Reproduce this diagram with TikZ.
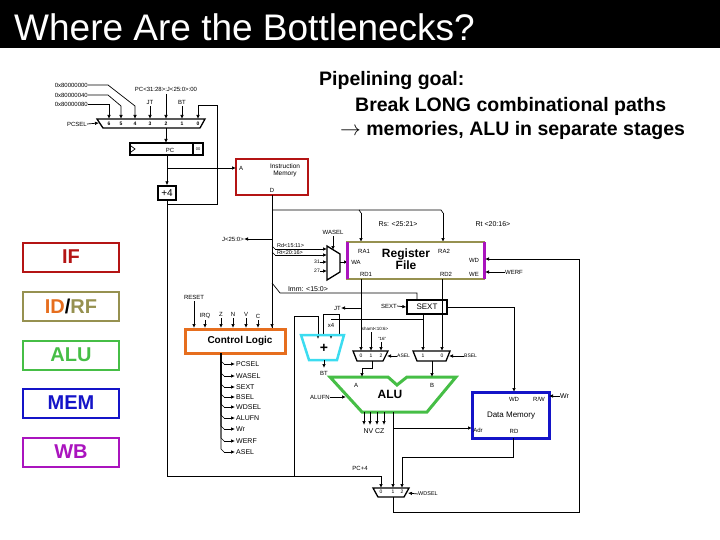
\documentclass[tikz,border=0pt]{standalone}
\usepackage{fontspec}
\setmainfont{Liberation Sans}
\usetikzlibrary{arrows.meta}
\definecolor{dred}{RGB}{180,20,20}
\definecolor{olive2}{RGB}{150,145,80}
\definecolor{purp}{RGB}{170,20,190}
\definecolor{grn}{RGB}{70,190,70}
\definecolor{blu}{RGB}{20,20,200}
\definecolor{orng}{RGB}{230,110,30}
\definecolor{cyn}{RGB}{60,220,240}
\begin{document}
\begin{tikzpicture}[x=1pt,y=-1pt,
  w/.style={line width=0.7pt},
  a/.style={w,-{Latex[length=4pt,width=3.5pt]}},
  t/.style={font=\fontsize{6}{6}\selectfont,inner sep=0pt},
  tb/.style={font=\fontsize{8}{8}\selectfont,inner sep=0pt},
  stage/.style={draw,line width=2pt,minimum width=96pt,minimum height=29pt,font=\fontsize{20}{20}\selectfont\bfseries},
  mux/.style={w,line width=1.3pt},
  goal/.style={anchor=west,font=\fontsize{19.5}{20}\selectfont\bfseries,inner sep=0}]
\useasboundingbox (0,0) rectangle (720,540);
\fill[black] (0,0) rectangle (720,48);
\node[white,anchor=west,font=\fontsize{37}{37}\selectfont,inner sep=0] (title) at (14,27) {Where Are the Bottlenecks?};
\node[goal] (g1) at (319,81) {Pipelining goal:};
\node[goal] (g2) at (355,106) {Break LONG combinational paths};
\node[goal] (g3) at (340,131) {$\rightarrow$ memories, ALU in separate stages};
% stages
\node[stage,draw=dred,text=dred] (sIF) at (71,257) {IF};
\node[stage,draw=olive2] (sID) at (71,306) {\textcolor{orng}{ID}/\textcolor{olive2}{RF}};
\node[stage,draw=grn,text=grn] (sALU) at (71,355) {ALU};
\node[stage,draw=blu,text=blu] (sMEM) at (71,403) {MEM};
\node[stage,draw=purp,text=purp] (sWB) at (71,452) {WB};
% PCSEL mux
\draw[mux] (97,119) -- (205,119) -- (200,128) -- (103,128) -- cycle;
\foreach \x/\n in {109/6,121/5,135/4,150/3,166/2,182/1,198/0}{\node[t,font=\fontsize{5}{5}\selectfont\bfseries] at (\x,124) {\n};}
\node[t,anchor=east] (c0) at (88,85) {0x80000000};
\node[t,anchor=east] (c1) at (88,95) {0x80000040};
\node[t,anchor=east] (c2) at (88,104) {0x80000080};
\draw[a] (c2.east) -- (109,104) -- (109,119);
\draw[a] (c1.east) -- (108,95) -- (121,106) -- (121,119);
\draw[a] (c0.east) -- (108,85) -- (135,106) -- (135,119);
\node[t] (jtl) at (150,102) {JT};
\draw[a] (150,106) -- (150,119);
\node[t] (pcj) at (166,89) {PC<31:28>:J<25:0>:00};
\draw[a] (166,94) -- (166,119);
\node[t] (btl) at (182,102) {BT};
\draw[a] (182,106) -- (182,119);
\node[t,anchor=east] (pcsel) at (87,124) {PCSEL};
\draw[a] (pcsel.east) -- (99,123);
% PC register
\draw[line width=1.3pt] (130,143) rectangle (203,155);
\draw[line width=1.3pt] (193,143) rectangle (203,155);
\node[t,font=\fontsize{4}{4}\selectfont] at (198,149) {00};
\node[t] (pc) at (170,150) {PC};
\draw[w] (131,146) -- (135,149) -- (131,152);
\draw[a] (166,128) -- (166,143);
% +4
\node[draw,line width=1.3pt,minimum width=18pt,minimum height=14pt,inner sep=0pt,font=\fontsize{10}{10}\selectfont] (p4) at (167,193) {+4};
\draw[a] (167,155) -- (p4.north);
% Instruction memory
\node[draw=dred,line width=2.5pt,minimum width=72pt,minimum height=36pt] (im) at (272,177) {};
\node[t,font=\fontsize{6.5}{7}\selectfont,align=center] at (285,170) {Instruction\\Memory};
\node[t] at (241,168) {A};
\node[t] at (272,190) {D};
\draw[a] (167,168) -- (236,168);
% loop to input 0
\draw[a] (167,204) -- (217,204) -- (217,105) -- (198,105) -- (198,119);
% PC+4 down
\draw[w] (p4.south) -- (167,476) -- (381,476);
\draw[a] (381,476) -- (381,488);
\node[t] at (360,468) {PC+4};
% instruction bus
\draw[w] (272,195) -- (272,328);
\draw[w] (272,210) -- (359,210) -- (361,213);
\draw[a] (361,213) -- (361,242);
\draw[w] (359,210) -- (441,210) -- (443,213);
\draw[a] (443,213) -- (443,242);
\node[t,font=\fontsize{7}{7}\selectfont] at (398,224) {Rs: <25:21>};
\node[t,font=\fontsize{7}{7}\selectfont] at (493,224) {Rt <20:16>};
\node[t,anchor=east] (jl) at (244,239) {J<25:0>};
\draw[a] (272,239) -- (jl.east);
\draw[w] (272,246) -- (275,249);
\draw[a] (275,249) -- (327,249);
\node[t,anchor=south west,font=\fontsize{5.5}{5.5}\selectfont] at (277,248) {Rd<15:11>};
\draw[w] (272,252) -- (275,255);
\draw[a] (275,255) -- (327,255);
\node[t,anchor=south west,font=\fontsize{5.5}{5.5}\selectfont] at (277,254.5) {Rt<20:16>};
\draw[a] (320,262) -- (327,262);
\node[t,anchor=east,font=\fontsize{5}{5}\selectfont] at (320,262) {31};
\draw[a] (320,271) -- (327,271);
\node[t,anchor=east,font=\fontsize{5}{5}\selectfont] at (320,271) {27};
\draw[w] (272,283) -- (280,293) -- (417,293) -- (417,299);
\node[t,font=\fontsize{7}{7}\selectfont] at (308,289) {Imm: <15:0>};
% WASEL mux
\draw[mux] (327,246) -- (340,254) -- (340,272) -- (327,280) -- cycle;
\node[t] at (333,232) {WASEL};
\draw[a] (333,236) -- (333,250);
\draw[a] (340,262) -- (348,262);
% Register file
\draw[olive2,line width=2.5pt] (347,242) rectangle (484,279);
\draw[purp,line width=3pt] (347,242) -- (347,279) (484,242) -- (484,279);
\node[font=\fontsize{12}{12}\selectfont\bfseries,align=center,inner sep=0] (rf) at (406,259) {Register\\File};
\node[t] at (364,251) {RA1};
\node[t] at (444,251) {RA2};
\node[t] at (356,262) {WA};
\node[t] at (366,274) {RD1};
\node[t] at (446,274) {RD2};
\node[t] at (474,260) {WD};
\node[t] at (474,274) {WE};
\node[t,anchor=west] (werf) at (505,272) {WERF};
\draw[a] (werf.west) -- (485,272);
% SEXT
\node[draw,line width=1.3pt,minimum width=40pt,minimum height=14pt,inner sep=0,font=\fontsize{8}{8}\selectfont] (sext) at (427,307) {SEXT};
\node[t,anchor=east] (sextl) at (397,306) {SEXT};
\draw[a] (sextl.east) -- (sext.west);
\draw[w] (sext.east) -- (514,307);
\draw[a] (514,307) -- (514,392);
\draw[w] (423,314) -- (423,319) -- (331,319);
\draw[a] (423,319) -- (423,351);
% RD1/RD2
\draw[a] (361,279) -- (361,351);
\node[t,anchor=east] (jt2) at (341,308) {JT};
\draw[a] (361,308) -- (jt2.east);
\draw[a] (442,279) -- (442,351);
% x4 and adder
\node[draw,w,minimum width=16pt,minimum height=21pt,inner sep=0,font=\fontsize{6}{6}\selectfont] (x4) at (331,325) {x4};
\draw[a] (331,335) -- (331,339);
\draw[w] (294,476) -- (294,316) -- (318,316);
\draw[a] (318,316) -- (318,339);
\draw[cyn,line width=2.5pt] (301,335) -- (344,335) -- (337,360) -- (309,360) -- cycle;
\node[font=\fontsize{14}{14}\selectfont\bfseries,inner sep=0] (add) at (324,348) {+};
\draw[a] (324,360) -- (324,368);
\node[t] at (324,373) {BT};
% ASEL mux
\draw[mux] (353,351) -- (388,351) -- (383,361) -- (357,361) -- cycle;
\foreach \x/\n in {361/0,371/1,381/2}{\node[t,font=\fontsize{5}{5}\selectfont] at (\x,356) {\n};}
\node[t,font=\fontsize{4.5}{4.5}\selectfont] at (375,329) {shamt<10:6>};
\draw[a] (371,332) -- (371,351);
\node[t,font=\fontsize{4.5}{4.5}\selectfont] at (382,339) {"16"};
\draw[a] (381,342) -- (381,351);
\node[t,anchor=west,font=\fontsize{5}{5}\selectfont] (asel) at (397,356) {ASEL};
\draw[a] (asel.west) -- (387,356);
% BSEL mux
\draw[mux] (413,351) -- (450,351) -- (446,361) -- (417,361) -- cycle;
\foreach \x/\n in {423/1,442/0}{\node[t,font=\fontsize{5}{5}\selectfont] at (\x,356) {\n};}
\node[t,anchor=west,font=\fontsize{5}{5}\selectfont] (bsel) at (464,356) {BSEL};
\draw[a] (bsel.west) -- (449,356);
% ALU
\draw[grn,line width=3pt] (330,377) -- (388,377) -- (397,385) -- (407,377) -- (456,377) -- (427,412) -- (362,412) -- cycle;
\node[font=\fontsize{12}{12}\selectfont\bfseries,inner sep=0] (alu) at (390,394) {ALU};
\node[t] at (356,385) {A};
\node[t] at (432,385) {B};
\draw[w] (372,361) -- (372,368) -- (362,368);
\draw[a] (362,368) -- (362,377);
\draw[a] (432,361) -- (432,377);
\node[t,anchor=east] (alufn) at (330,397) {ALUFN};
\draw[a] (alufn.east) -- (346,397);
\foreach \x in {364,370,377,384}{\draw[a] (\x,412) -- (\x,425);}
\node[t,font=\fontsize{7}{7}\selectfont] at (374,431) {NV CZ};
\draw[a] (393,412) -- (393,488);
\draw[a] (393,428) -- (472,428);
% Data memory
\draw[blu,line width=3pt] (472,392) rectangle (549,438);
\node[t,font=\fontsize{8}{8}\selectfont] (dm) at (511,416) {Data Memory};
\node[t] at (514,399) {WD};
\node[t] at (539,399) {R/W};
\node[t] at (478,430) {Adr};
\node[t] at (514,431) {RD};
\node[t,anchor=west,font=\fontsize{7}{7}\selectfont] (wr) at (560,396) {Wr};
\draw[a] (wr.west) -- (549,396);
\draw[w] (513,438) -- (513,457) -- (402,457);
\draw[a] (402,457) -- (402,488);
% WDSEL mux
\draw[mux] (373,488) -- (409,488) -- (404,497) -- (378,497) -- cycle;
\foreach \x/\n in {381/0,393/1,402/2}{\node[t,font=\fontsize{5}{5}\selectfont] at (\x,492) {\n};}
\node[t,anchor=west,font=\fontsize{5.5}{5.5}\selectfont] (wdsel) at (418,494) {WDSEL};
\draw[a] (wdsel.west) -- (408,493);
\draw[w] (393,497) -- (393,512) -- (579,512) -- (579,259);
\draw[a] (579,259) -- (485,259);
% Control logic
\node[draw=orng,line width=3pt,minimum width=100pt,minimum height=24pt,inner sep=0,font=\fontsize{10}{10}\selectfont\bfseries] (cl) at (235,341) {\quad Control Logic};
\node[t] (reset) at (194,297) {RESET};
\draw[a] (194,301) -- (194,328);
\foreach \x/\n/\y in {205/IRQ/316,221/Z/314,233/N/314,246/V/314,258/C/316}{\node[t] at (\x,\y) {\n}; \draw[a] (\x,\y+4) -- (\x,328);}
\draw[a] (272,320) -- (272,328);
\foreach \y/\n in {364/PCSEL,376/WASEL,387/SEXT,397/BSEL,407/WDSEL,418/ALUFN,429/Wr,441/WERF,452/ASEL}{
  \draw[w] (221,353) -- (221,\y-3) -- (224,\y);
  \draw[a] (224,\y) -- (235,\y);
  \node[t,anchor=west,font=\fontsize{7}{7}\selectfont] at (236,\y) {\n};}
\end{tikzpicture}
\end{document}
